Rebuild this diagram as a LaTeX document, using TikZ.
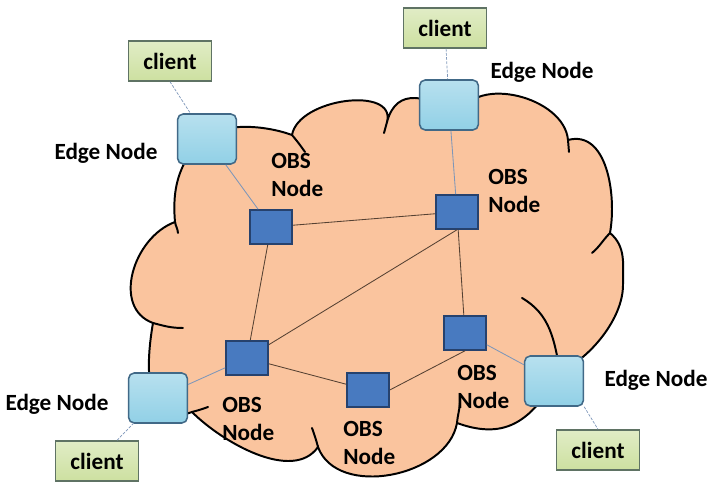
\documentclass[tikz,border=0pt]{standalone}
\usepackage{fontspec}
\setmainfont{Carlito}
\usepackage{xcolor}
\usepackage{tikz}

\definecolor{cloudfill}{RGB}{250,196,158}
\definecolor{clientfill}{RGB}{205,224,160}
\definecolor{clientline}{RGB}{95,115,100}
\definecolor{edgefill}{RGB}{145,208,230}
\definecolor{edgeline}{RGB}{65,105,135}
\definecolor{obsfill}{RGB}{72,122,192}
\definecolor{obsline}{RGB}{38,66,110}
\definecolor{linkdark}{RGB}{85,65,50}
\definecolor{linklight}{RGB}{125,150,185}

\tikzset{
 client/.style={draw=clientline, line width=1pt, top color=clientfill!60!white, bottom color=clientfill, minimum width=2.075cm, minimum height=1cm, inner sep=0pt, font=\fontsize{16.5}{20}\selectfont\bfseries},
 edgenode/.style={draw=edgeline, line width=1.1pt, rounded corners=4pt, top color=edgefill!65!white, bottom color=edgefill, minimum width=1.47cm, minimum height=1.25cm},
 obsnode/.style={draw=obsline, line width=1.1pt, fill=obsfill, minimum width=1.05cm, minimum height=0.85cm},
 lbl/.style={font=\fontsize{16.5}{20.5}\selectfont\bfseries, align=left, inner sep=0pt},
 core/.style={draw=linkdark, line width=0.6pt},
 access/.style={draw=linklight, line width=0.6pt},
 tether/.style={draw=linklight, line width=0.5pt, dash pattern=on 2pt off 1pt},
 puff/.style={draw=black, line width=1.4pt, line cap=round},
}

\begin{document}
\begin{tikzpicture}[x=0.025cm, y=-0.025cm]
 \useasboundingbox (0, 0) rectangle (723, 490);

 \filldraw [puff, fill=cloudfill]
  (175, 222) to [out=95, in=230] (200, 140)
  to [out=40, in=160, looseness=0.8] (292, 135)
  to [out=80, in=75] (387, 122)
  to [out=75, in=150, looseness=1.3] (460, 115)
  to [out=70, in=95] (568, 140)
  to [out=15, in=80] (610, 233)
  to [out=-40, in=90] (623, 285)
  to [out=-90, in=25, looseness=0.8] (560, 372)
  to [out=240, in=-20, looseness=1.2] (457, 423)
  to [out=260, in=-70] (318, 447)
  to [out=235, in=-45, looseness=0.85] (192, 412)
  to [out=200, in=260, looseness=1.3] (153, 323)
  to [out=160, in=200, looseness=1.1] cycle;

 \draw [puff] (175, 222) to [out=-80, in=95] (178, 233);
 \draw [puff] (153, 323) to [out=-15, in=180] (183, 328);
 \draw [puff] (192, 412) to [out=15, in=200] (208, 407);
 \draw [puff] (318, 447) to [out=105, in=-70] (312, 428);
 \draw [puff] (457, 423) to [out=85, in=-95] (460, 403);
 \draw [puff] (522, 298) to [out=-30, in=100] (560, 372);
 \draw [puff] (610, 233) to [out=225, in=40] (592, 253);
 \draw [puff] (568, 140) -- (569, 152);
 \draw [puff] (387, 122) -- (384, 133);
 \draw [puff] (292, 135) to [out=-50, in=125] (305, 152);

 \node [client] (cl1) at (170, 61) {client};
 \node [client] (cl2) at (445, 28) {client};
 \node [client] (cl3) at ( 97, 461) {client};
 \node [client] (cl4) at (598, 450) {client};

 \node [edgenode] (etl) at (207, 139) {};
 \node [edgenode] (etop) at (449, 105) {};
 \node [edgenode] (ebl) at (158, 398) {};
 \node [edgenode] (ebr) at (554, 381) {};

 \node [obsnode] (obsA) at (271, 227) {};
 \node [obsnode] (obsB) at (457, 212) {};
 \node [obsnode] (obsC) at (247, 358) {};
 \node [obsnode] (obsD) at (368, 390) {};
 \node [obsnode] (obsE) at (465, 333) {};

 \node [lbl] (lab-etl) at (106, 153) {Edge Node};
 \node [lbl] (lab-etop) at (542, 72) {Edge Node};
 \node [lbl] (lab-ebl) at ( 57, 404) {Edge Node};
 \node [lbl] (lab-ebr) at (656, 380) {Edge Node};
 \node [lbl, anchor=west] (lab-A) at (271, 175) {OBS\\Node};
 \node [lbl, anchor=west] (lab-B) at (488, 191) {OBS\\Node};
 \node [lbl, anchor=west] (lab-C) at (222, 419) {OBS\\Node};
 \node [lbl, anchor=west] (lab-D) at (343, 443) {OBS\\Node};
 \node [lbl, anchor=west] (lab-E) at (457, 387) {OBS\\Node};

 \draw [core] (obsA) -- (obsB);
 \draw [core] (obsA) -- (obsC);
 \draw [core] (obsB.south) -- (obsC);
 \draw [core] (obsB) -- (obsE);
 \draw [core] (obsC) -- (obsD);
 \draw [core] (obsD.east) -- (obsE.south);

 \draw [access] (etl) -- (obsA);
 \draw [access] (etop) -- (obsB);
 \draw [access] (ebl) -- (obsC);
 \draw [access] (ebr) -- (obsE);

 \draw [tether] (cl1.south) -- (etl);
 \draw [tether] (cl2) -- (etop);
 \draw [tether] (cl3) -- (ebl);
 \draw [tether] (ebr.south east) -- (cl4.north);
\end{tikzpicture}
\end{document}
